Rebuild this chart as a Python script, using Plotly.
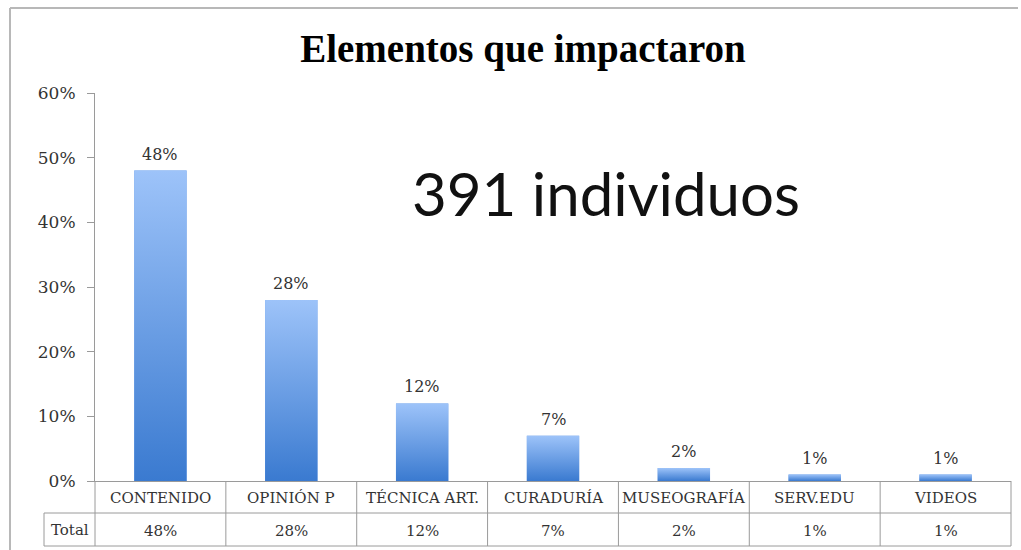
import plotly.graph_objects as go

# Share of respondents by element that made an impression
categories = ["CONTENIDO", "OPINIÓN P", "TÉCNICA ART.", "CURADURÍA",
              "MUSEOGRAFÍA", "SERV.EDU", "VIDEOS"]
values = [48, 28, 12, 7, 2, 1, 1]
row_label = "Total"
title_text = "Elementos que impactaron"
note_text = "391 individuos"
y_ticks = [0, 10, 20, 30, 40, 50, 60]

W, H = 1021, 550
ML, MR, MT, MB = 95, 10, 93, 69
plot_w = W - ML - MR
plot_h = H - MT - MB

def px_x(px):
    return (px - ML) / plot_w

def px_y(py):
    return (H - MB - py) / plot_h

SERIF = "DejaVu Serif"
GRID = "#9a9a9a"
TEXT = "#333333"
LIGHT = "rgb(157,195,249)"
DARK = "rgb(58,122,208)"
BAR_W = 0.4

fig = go.Figure()

# base bars
fig.add_trace(go.Bar(
    x=list(range(len(categories))), y=values, width=BAR_W,
    marker=dict(color="rgb(105,155,228)", line=dict(width=0)),
    hoverinfo="skip", showlegend=False,
))

# vertical gradient overlay on each bar
for i, v in enumerate(values):
    x0, x1 = i - BAR_W / 2, i + BAR_W / 2
    fig.add_trace(go.Scatter(
        x=[x0, x1, x1, x0, x0], y=[0, 0, v, v, 0],
        mode="lines", fill="toself", line=dict(width=0),
        fillgradient=dict(type="vertical",
                          colorscale=[[0, DARK], [1, LIGHT]]),
        hoverinfo="skip", showlegend=False,
    ))

annotations = []
# value labels above bars
for i, v in enumerate(values):
    annotations.append(dict(
        x=i, y=v, xref="x", yref="y", text=f"{v}%", showarrow=False,
        yanchor="bottom", yshift=5,
        font=dict(family=SERIF, size=16, color=TEXT),
    ))

# data table under the axis
row1_top, row1_bot, row2_bot = 481, 513, 546
total_left = 44
n = len(categories)
for i, (c, v) in enumerate(zip(categories, values)):
    xc = (i + 0.5) / n
    annotations.append(dict(
        x=xc, y=px_y((row1_top + row1_bot) / 2 + 1), xref="paper", yref="paper",
        text=c, showarrow=False, xanchor="center", yanchor="middle",
        font=dict(family=SERIF, size=15, color=TEXT),
    ))
    annotations.append(dict(
        x=xc, y=px_y((row1_bot + row2_bot) / 2 + 1), xref="paper", yref="paper",
        text=f"{v}%", showarrow=False, xanchor="center", yanchor="middle",
        font=dict(family=SERIF, size=15, color=TEXT),
    ))
annotations.append(dict(
    x=px_x((total_left + ML) / 2), y=px_y((row1_bot + row2_bot) / 2),
    xref="paper", yref="paper", text=row_label, showarrow=False,
    xanchor="center", yanchor="middle",
    font=dict(family=SERIF, size=15, color=TEXT),
))

# sample size note
annotations.append(dict(
    x=px_x(606), y=px_y(193), xref="paper", yref="paper", text=note_text,
    showarrow=False, xanchor="center", yanchor="middle",
    font=dict(family="Lato", size=60, color="#111111"),
))

shapes = []
line = dict(color=GRID, width=1)
for k in range(n + 1):
    shapes.append(dict(type="line", xref="paper", yref="paper",
                       x0=k / n, x1=k / n, y0=px_y(row1_top), y1=px_y(row2_bot),
                       line=line))
for py in (row1_bot, row2_bot):
    shapes.append(dict(type="line", xref="paper", yref="paper",
                       x0=px_x(total_left), x1=1, y0=px_y(py), y1=px_y(py),
                       line=line))
shapes.append(dict(type="line", xref="paper", yref="paper",
                   x0=px_x(total_left), x1=px_x(total_left),
                   y0=px_y(row1_bot), y1=px_y(row2_bot), line=line))

# outer frame (top and left edges)
frame = dict(color="#b8b8b8", width=2)
shapes.append(dict(type="line", xref="paper", yref="paper",
                   x0=px_x(10), x1=px_x(W - 3), y0=px_y(8), y1=px_y(8), line=frame))
shapes.append(dict(type="line", xref="paper", yref="paper",
                   x0=px_x(10), x1=px_x(10), y0=px_y(8), y1=px_y(H), line=frame))

fig.update_layout(
    width=W, height=H,
    margin=dict(l=ML, r=MR, t=MT, b=MB),
    paper_bgcolor="white", plot_bgcolor="white",
    title=dict(text=f"<b>{title_text}</b>", x=523 / W,
               xanchor="center", y=1 - 48 / H, yanchor="middle",
               font=dict(family="Liberation Serif", size=39, color="#000000")),
    xaxis=dict(range=[-0.5, n - 0.5], showticklabels=False, ticks="",
               showline=True, linecolor=GRID, linewidth=1,
               showgrid=False, zeroline=False, fixedrange=True),
    yaxis=dict(range=[0, 60], tickvals=y_ticks,
               ticktext=[f"{t}%" for t in y_ticks],
               ticks="outside", ticklen=7, tickcolor=GRID,
               ticklabelstandoff=8,
               showline=True, linecolor=GRID, linewidth=1,
               showgrid=False, zeroline=False,
               tickfont=dict(family=SERIF, size=17, color=TEXT)),
    annotations=annotations, shapes=shapes,
    showlegend=False, bargap=0.6,
)

fig.write_html("out.html", config={"displayModeBar": False})
